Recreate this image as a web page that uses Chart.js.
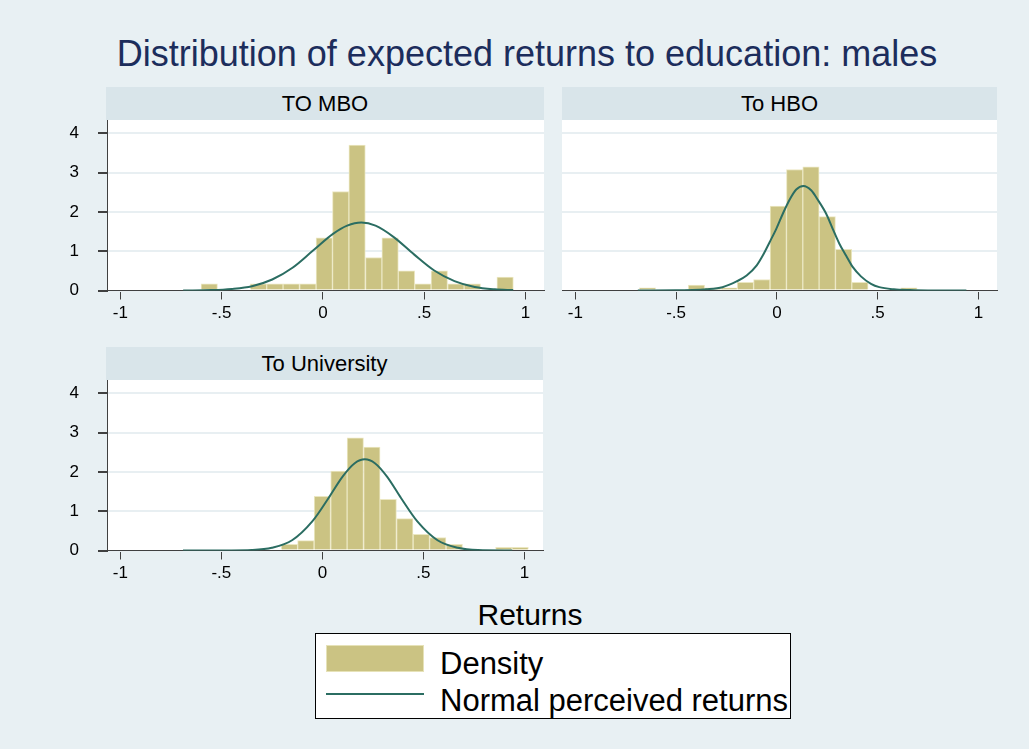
<!DOCTYPE html>
<html>
<head>
<meta charset="utf-8">
<script src="https://cdn.jsdelivr.net/npm/chart.js@4.4.1/dist/chart.umd.min.js"></script>
<style>
  body { margin: 0; background: #e8f0f3; font-family: "Liberation Sans", Arial, sans-serif; }
  #page { position: relative; width: 1029px; height: 749px; background: #e8f0f3; overflow: hidden; }
  canvas { position: absolute; }
  .title { position: absolute; top: 36px; left: 527px; transform: translateX(-50%); white-space: nowrap;
           font-size: 36px; line-height: 1; color: #1c2d5c; }
  .strip { position: absolute; height: 33px; line-height: 33px; background: #d9e5ea; text-align: center;
           font-size: 22px; color: #000; }
  .xtitle { position: absolute; top: 600px; left: 530px; transform: translateX(-50%); font-size: 30px; line-height: 1; }
  .legend { position: absolute; left: 315px; top: 633px; width: 474px; height: 84px; background: #fff; border: 1px solid #000; }
  .legend .sw { position: absolute; left: 10px; top: 11px; width: 96px; height: 25px; background: #cbc383; border: 1px solid #e6e2b8; }
  .legend .ln { position: absolute; left: 10px; top: 59px; width: 98px; height: 2px; background: #2b6d62; }
  .legend .tx { position: absolute; left: 124px; font-size: 31px; line-height: 1; white-space: nowrap; }
</style>
</head>
<body>
<div id="page">
  <div class="title">Distribution of expected returns to education: males</div>

  <div class="strip" style="left:106px; top:87px; width:438px;">TO MBO</div>
  <div class="strip" style="left:562px; top:87px; width:435px;">To HBO</div>
  <div class="strip" style="left:106px; top:347px; width:437px;">To University</div>

  <canvas id="mbo" width="514" height="240" style="left:40px; top:90px;"></canvas>
  <canvas id="hbo" width="512" height="240" style="left:495px; top:90px;"></canvas>
  <canvas id="uni" width="513" height="240" style="left:40px; top:350px;"></canvas>

  <div class="xtitle">Returns</div>
  <div class="legend">
    <div class="sw"></div>
    <div class="tx" style="top:14px;">Density</div>
    <div class="ln"></div>
    <div class="tx" style="top:51px;">Normal perceived returns</div>
  </div>
</div>

<script>
// axis ticks
var xTicks = [-1, -0.5, 0, 0.5, 1];
var xTickLabels = ['-1', '-.5', '0', '.5', '1'];
var yTicks = [0, 1, 2, 3, 4];

// TO MBO: histogram bin centres and densities
var mboBins = [-0.561, -0.480, -0.399, -0.318, -0.237, -0.156, -0.074, 0.007, 0.088, 0.169,
               0.251, 0.332, 0.413, 0.494, 0.575, 0.657, 0.738, 0.819, 0.900];
var mboDensity = [0.17, 0, 0, 0.17, 0.17, 0.17, 0.17, 1.34, 2.52, 3.70,
                  0.84, 1.34, 0.50, 0.17, 0.50, 0.17, 0.17, 0, 0.34];
// TO MBO: normal curve
var mboCurveX = [-0.69, -0.55, -0.45, -0.35, -0.25, -0.15, -0.05, 0.05, 0.12, 0.19,
                 0.26, 0.35, 0.45, 0.55, 0.65, 0.75, 0.85, 0.94];
var mboCurveY = [0.00, 0.01, 0.04, 0.11, 0.28, 0.58, 1.01, 1.44, 1.65, 1.73,
                 1.65, 1.36, 0.92, 0.51, 0.24, 0.09, 0.03, 0.01];

// To HBO
var hboBins = [-0.642, -0.561, -0.480, -0.399, -0.318, -0.237, -0.156, -0.075, 0.007,
               0.088, 0.169, 0.250, 0.331, 0.412, 0.493, 0.574, 0.655];
var hboDensity = [0.07, 0, 0, 0.14, 0.07, 0.07, 0.21, 0.28, 2.15,
                  3.08, 3.15, 1.88, 1.05, 0.21, 0, 0, 0.07];
var hboCurveX = [-0.69, -0.50, -0.42, -0.35, -0.27, -0.20, -0.15, -0.10, -0.07, -0.036, -0.003,
                 0.03, 0.063, 0.096, 0.132, 0.17, 0.203, 0.244, 0.277, 0.31, 0.343, 0.376,
                 0.417, 0.467, 0.508, 0.58, 0.66, 0.75, 0.94];
var hboCurveY = [0.00, 0.005, 0.01, 0.03, 0.085, 0.23, 0.38, 0.64, 0.89, 1.23, 1.57,
                 1.96, 2.31, 2.57, 2.66, 2.55, 2.31, 1.96, 1.57, 1.19, 0.89, 0.60,
                 0.36, 0.17, 0.085, 0.03, 0.01, 0.00, 0.00];

// To University
var uniBins = [-0.163, -0.082, 0.000, 0.082, 0.163, 0.245, 0.326, 0.408, 0.490, 0.571,
               0.653, 0.734, 0.816, 0.898, 0.979];
var uniDensity = [0.16, 0.25, 1.38, 2.02, 2.87, 2.63, 1.30, 0.81, 0.41, 0.33,
                  0.16, 0, 0, 0.08, 0.08];
var uniCurveX = [-0.69, -0.45, -0.35, -0.25, -0.15, -0.05, 0.03, 0.10, 0.16, 0.21,
                 0.26, 0.32, 0.39, 0.47, 0.57, 0.67, 0.77, 0.94];
var uniCurveY = [0.00, 0.00, 0.01, 0.07, 0.26, 0.74, 1.33, 1.88, 2.22, 2.32,
                 2.22, 1.88, 1.33, 0.74, 0.26, 0.07, 0.01, 0.00];

Chart.defaults.font.family = '"Liberation Sans", Arial, sans-serif';
Chart.defaults.font.size = 17;
Chart.defaults.color = '#000';

var barFill = '#cbc383';
var barEdge = '#ebe7c2';
var curveColor = '#2b6d62';
var axisColor = '#404040';

// white plot region behind grid and bars
var plotBg = {
  id: 'plotBg',
  beforeDraw: function (chart) {
    var a = chart.chartArea, ctx = chart.ctx;
    ctx.save();
    ctx.fillStyle = '#fff';
    ctx.fillRect(a.left, a.top, a.right - a.left, a.bottom - a.top);
    ctx.restore();
  }
};

function pairs(xs, ys) {
  return xs.map(function (x, i) { return { x: x, y: ys[i] }; });
}

function panel(id, bins, dens, cx, cy, showY) {
  var ctx = document.getElementById(id).getContext('2d');
  return new Chart(ctx, {
    type: 'bar',
    data: {
      datasets: [
        {
          type: 'line',
          label: 'Normal perceived returns',
          data: pairs(cx, cy),
          borderColor: curveColor,
          borderWidth: 2,
          pointRadius: 0,
          cubicInterpolationMode: 'monotone',
          fill: false,
          order: 0
        },
        {
          type: 'bar',
          label: 'Density',
          data: pairs(bins, dens),
          backgroundColor: barFill,
          borderColor: barEdge,
          borderWidth: 1,
          borderSkipped: 'bottom',
          barPercentage: 1,
          categoryPercentage: 1,
          order: 1
        }
      ]
    },
    options: {
      responsive: false,
      animation: false,
      events: [],
      layout: { padding: { top: 30, left: 7, right: 10, bottom: 4.5 } },
      plugins: { legend: { display: false }, tooltip: { enabled: false } },
      scales: {
        x: {
          type: 'linear',
          offset: false,
          min: -1.066,
          max: 1.092,
          afterBuildTicks: function (s) { s.ticks = xTicks.map(function (v) { return { value: v }; }); },
          afterFit: function (s) { s.height = 35; },
          grid: { offset: false, drawOnChartArea: false, drawTicks: true, tickLength: 9, tickColor: axisColor },
          border: { display: true, color: axisColor, width: 1 },
          ticks: {
            autoSkip: false, maxRotation: 0, padding: 4,
            callback: function (v) { return xTickLabels[xTicks.indexOf(v)]; }
          }
        },
        y: {
          min: 0,
          max: 4.34,
          afterBuildTicks: function (s) { s.ticks = yTicks.map(function (v) { return { value: v }; }); },
          afterFit: function (s) { s.width = 60; },
          grid: { color: '#e8eff2', lineWidth: 2, drawTicks: showY, tickLength: 9, tickColor: axisColor },
          border: { display: showY, color: axisColor, width: 1 },
          ticks: { display: showY, padding: 19, callback: function (v) { return String(v); } }
        }
      }
    },
    plugins: [plotBg]
  });
}

panel('mbo', mboBins, mboDensity, mboCurveX, mboCurveY, true);
panel('hbo', hboBins, hboDensity, hboCurveX, hboCurveY, false);
panel('uni', uniBins, uniDensity, uniCurveX, uniCurveY, true);
</script>
</body>
</html>
